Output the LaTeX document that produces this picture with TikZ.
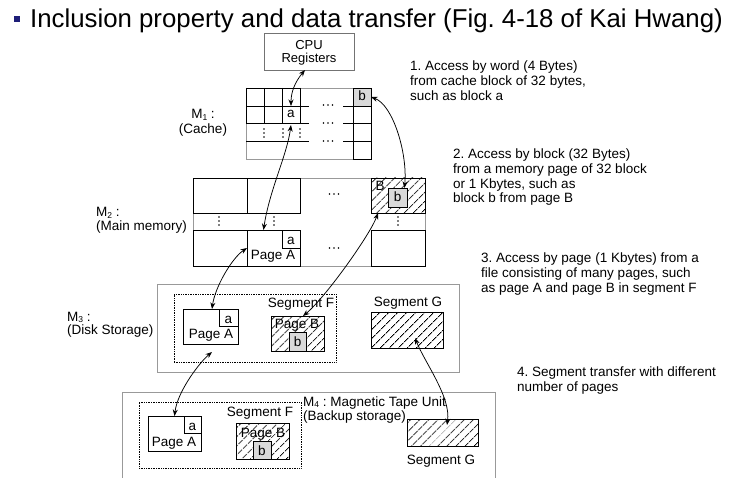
\documentclass[tikz,border=0pt]{standalone}
\usepackage{fontspec}
\setmainfont{Liberation Sans}
\frenchspacing
\usetikzlibrary{arrows.meta,patterns.meta}
\newcommand\mybox[6]{\node[#6,inner sep=0pt,outer sep=0pt,minimum width={(#4-#2)*1pt},minimum height={(#5-#3)*1pt}] (#1) at ({(#2+#4)/2},{(#3+#5)/2}) {};}
\newcommand\msub[1]{\raisebox{-1.5pt}{\fontsize{8.5}{9}\selectfont #1}}
\begin{document}
\begin{tikzpicture}[x=1pt,y=-1pt,
 dk/.style={draw=black,line width=0.8pt},
 lt/.style={draw=black!40,line width=0.6pt},
 hatch/.style={pattern={Lines[angle=45,distance=6.5pt,line width=0.85pt]}},
 gcell/.style={fill=black!15},
 dbox/.style={draw=black,densely dotted,line width=0.7pt},
 arr/.style={{Stealth[length=6.5pt,width=5pt]}-{Stealth[length=6.5pt,width=5pt]},line width=0.75pt},
 txt/.style={font=\fontsize{13.5}{15}\selectfont,inner sep=0pt},
 lbl/.style={txt,anchor=base},
 lw/.style={txt,anchor=base west},
 dot/.style={fill=black},
]
\useasboundingbox (0,0) rectangle (749,478);
\fill[white] (0,0) rectangle (749,478);
% title
\node[fill={rgb,255:red,30;green,30;blue,120},minimum size=6pt,inner sep=0pt] (bul) at (17,19) {};
\node[font=\fontsize{25.8}{28}\selectfont,anchor=base west,inner sep=0pt] (title) at (30,28) {Inclusion property and data transfer (Fig. 4-18 of Kai Hwang)};
% CPU
\mybox{cpu}{264}{33}{354}{70}{draw=black!55,line width=0.6pt}
\node[lbl,font=\fontsize{13}{15}\selectfont] (cpu1) at (309,50) {CPU};
\node[lbl,font=\fontsize{13}{15}\selectfont] (cpu2) at (309,63) {Registers};
% cache
\mybox{cache}{246}{88}{371}{159}{lt}
\draw[dk] (246,88) -- (300,88) (246,106) -- (309,106) (246,123) -- (309,123) (246,141) -- (309,141)
 (343,106) -- (353,106) (343,123) -- (353,123) (343,141) -- (353,141)
 (246,88) -- (246,123) (264,88) -- (264,123) (282,88) -- (282,123) (300,88) -- (300,123);
\draw[dk] (353,88) rectangle (371,159) (353,106) -- (371,106) (353,123) -- (371,123) (353,141) -- (371,141);
\mybox{ca}{282}{106}{300}{123}{dk,fill=white}
\mybox{cb}{353}{88}{371}{106}{dk,gcell}
\node[lbl] (cat) at (291,118) {a};
\node[lbl] (cbt) at (362,101) {b};
\foreach \x in {264,283,300} \foreach \d in {-4,0,4} \fill[dot] (\x,133+\d) circle (0.8pt);
\foreach \y in {105,123,141} \foreach \d in {-4.5,0,4.5} \fill[dot] (328+\d,\y) circle (0.8pt);
\node[lbl] (m1a) at (203,119) {M\msub{1} :};
\node[lbl] (m1b) at (203,134) {(Cache)};
% main memory
\mybox{mm}{193}{178}{425}{266}{lt}
\mybox{m11}{193}{178}{247}{213}{dk}
\mybox{m12}{247}{178}{300}{213}{dk}
\mybox{mB}{371}{178}{425}{213}{dk,hatch}
\mybox{m21}{193}{230}{247}{266}{dk}
\mybox{pa}{247}{230}{300}{266}{dk}
\mybox{m24}{371}{230}{425}{266}{dk}
\mybox{paa}{282}{230}{300}{248}{dk,fill=white}
\node[lbl] (paat) at (291,244) {a};
\node[lbl] (pat) at (273,260) {Page A};
\node[lbl] (mBt) at (380,191) {B};
\mybox{mb}{388}{188}{407}{207}{dk,gcell}
\node[lbl] (mbt) at (397.5,202) {b};
\foreach \x in {219,274,398} \foreach \d in {-4,0,4} \fill[dot] (\x,221+\d) circle (0.8pt);
\foreach \y in {194,248} \foreach \d in {-4.5,0,4.5} \fill[dot] (334+\d,\y) circle (0.8pt);
\node[lw] (m2a) at (96,217) {M\msub{2} :};
\node[lw] (m2b) at (96,231) {(Main memory)};
% disk
\mybox{disk}{157}{284}{459}{372}{lt}
\mybox{segF}{174}{294}{336}{362}{dbox}
\mybox{pda}{183}{309}{238}{344}{dk}
\mybox{pdaa}{219}{309}{238}{326}{dk}
\node[lbl] (pdaat) at (228.5,323) {a};
\node[lbl] (pdat) at (211,338) {Page A};
\node[lbl] (segFt) at (301,307) {Segment F};
\mybox{pdb}{271}{316}{324}{351}{dk,hatch}
\node[lbl] (pdbt) at (297,328) {Page B};
\mybox{pdbb}{289}{332}{306}{351}{dk,gcell}
\node[lbl] (pdbbt) at (297.5,346) {b};
\node[lbl] (segGt) at (408,306) {Segment G};
\mybox{dg}{371}{312}{443}{348}{dk,hatch}
\node[lw] (m3a) at (67,321) {M\msub{3} :};
\node[lw] (m3b) at (67,334) {(Disk Storage)};
% tape
\mybox{tape}{122}{392}{495}{492}{lt}
\mybox{tsegF}{139}{402}{301}{468}{dbox}
\mybox{tpa}{148}{416}{201}{451}{dk}
\mybox{tpaa}{184}{416}{201}{433}{dk}
\node[lbl] (tpaat) at (192.5,430) {a};
\node[lbl] (tpat) at (174,446) {Page A};
\node[lbl] (tsegFt) at (260,416) {Segment F};
\mybox{tpb}{236}{423}{289}{459}{dk,hatch}
\node[lbl] (tpbt) at (263,437) {Page B};
\mybox{tpbb}{253}{441}{271}{459}{dk,gcell}
\node[lbl] (tpbbt) at (262,455) {b};
\mybox{tg}{407}{419}{478}{446}{dk,hatch}
\node[lbl] (tgt) at (441,464) {Segment G};
\node[lw] (m4a) at (303,406) {M\msub{4} : Magnetic Tape Unit};
\node[lw] (m4b) at (303,420) {(Backup storage)};
% arrows
\draw[arr] ([xshift=-4pt]cpu.south) .. controls +(-10,12) and +(0,-14) .. (ca.north);
\draw[arr] ([yshift=-2pt]ca.south) .. controls +(-4,30) and +(6,-40) .. ([xshift=-10pt]pa.north);
\draw[arr] (cb.east) .. controls +(22,8) and +(3,-35) .. ([xshift=7pt]mb.north);
\draw[arr] (pa.west) .. controls +(-15,10) and +(3,-22) .. ([xshift=1.5pt]pda.north);
\draw[arr] ([xshift=7pt]mB.south west) .. controls +(-8,22) and +(22,-18) .. ([xshift=5.5pt]pdb.north);
\draw[arr] ([xshift=8pt,yshift=-8pt]dg.center) .. controls +(10,25) and +(4,-28) .. ([xshift=4.5pt,yshift=7.5pt]tg.center);
\draw[arr] ([xshift=1.5pt,yshift=-8pt]pda.south) .. controls +(-12,10) and +(3,-25) .. (tpa.north);
% notes
\node[lw] (n1a) at (410,71) {1. Access by word (4 Bytes)};
\node[lw] (n1b) at (410,86) {from cache block of 32 bytes,};
\node[lw] (n1c) at (410,101) {such as block a};
\node[lw] (n2a) at (453,158.5) {2. Access by block (32 Bytes)};
\node[lw] (n2b) at (453,173.5) {from a memory page of 32 block};
\node[lw] (n2c) at (453,188.5) {or 1 Kbytes, such as};
\node[lw] (n2d) at (453,203) {block b from page B};
\node[lw] (n3a) at (481,262.5) {3. Access by page (1 Kbytes) from a};
\node[lw] (n3b) at (481,277.5) {file consisting of many pages, such};
\node[lw] (n3c) at (481,292) {as page A and page B in segment F};
\node[lw] (n4a) at (517,376.5) {4. Segment transfer with different};
\node[lw] (n4b) at (517,391) {number of pages};
\end{tikzpicture}
\end{document}
